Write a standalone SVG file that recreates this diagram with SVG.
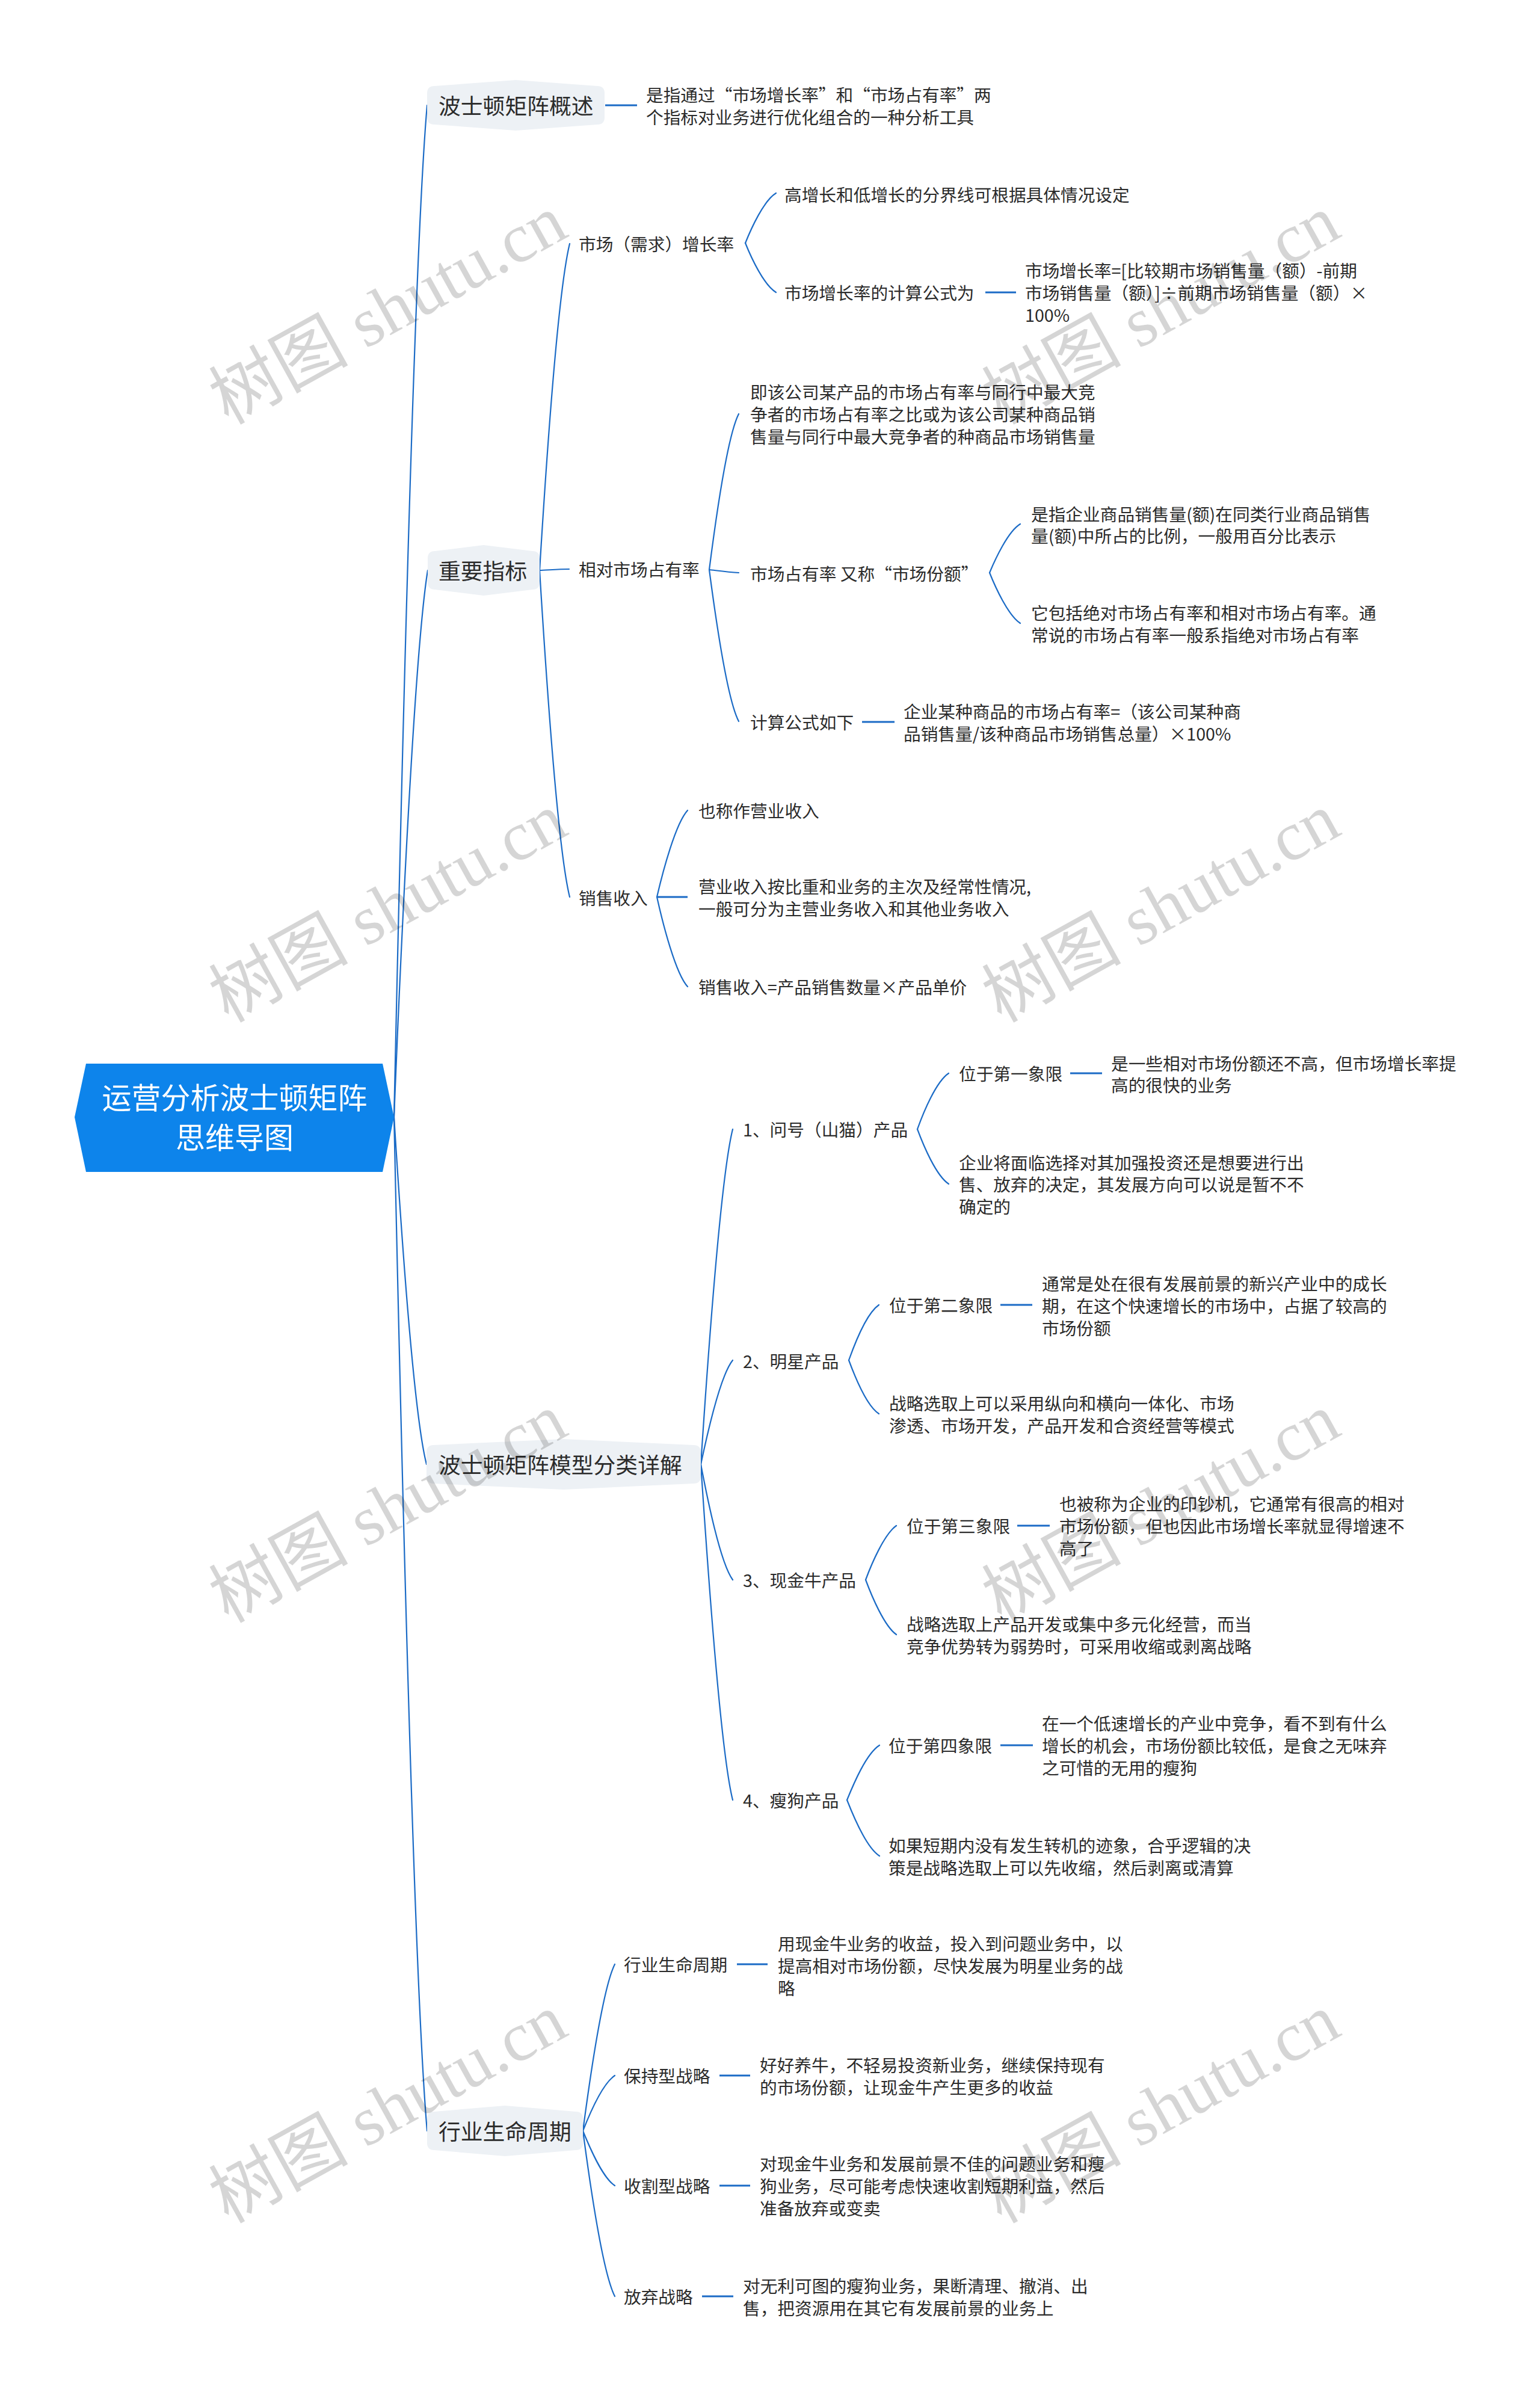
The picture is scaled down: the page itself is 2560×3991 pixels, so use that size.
<svg xmlns="http://www.w3.org/2000/svg" width="2560" height="3991" viewBox="0 0 2560 3991">
<defs>
<style>
.t{font-family:"Noto Sans CJK SC","Noto Sans",sans-serif;font-size:28.7px;fill:#2b2b2b;dominant-baseline:central}
.m{font-family:"Noto Sans CJK SC","Noto Sans",sans-serif;font-size:36.8px;fill:#2b2b2b;dominant-baseline:central}
.r{font-family:"Noto Sans CJK SC","Noto Sans",sans-serif;font-size:49px;fill:#ffffff;dominant-baseline:central;text-anchor:middle}
.nb{fill:#edf1f5}
.c{fill:none;stroke:#1b6bc6;stroke-width:2.2;stroke-linecap:round}
.s{fill:none;stroke:#1b6bc6;stroke-width:3}
.w{font-family:"Liberation Serif","Noto Sans CJK SC",serif;font-size:116px;fill:#000;opacity:0.16;text-anchor:middle;dominant-baseline:central}
</style>
</defs>
<rect width="2560" height="3991" fill="#ffffff"/>

<g id="connectors">
<path class="c" d="M655 1857 C666 1352 688 427 710 175"/>
<path class="c" d="M655 1857 C666 1584 689 1084 711 948"/>
<path class="c" d="M655 1857 C666 2030 687 2348 709 2434"/>
<path class="c" d="M655 1857 C666 2363 688 3289 710 3542"/>
<path class="s" d="M1006 175 L1059 175"/>
<path class="c" d="M897 948 C907 785 927 487 947 405"/>
<path class="c" d="M897 948 C907 948 926 946 946 946"/>
<path class="c" d="M897 948 C907 1111 927 1410 947 1491"/>
<path class="c" d="M1239 404 C1249 379 1270 333 1290 321"/>
<path class="c" d="M1239 404 C1249 429 1270 474 1290 486"/>
<path class="s" d="M1638 486 L1689 486"/>
<path class="c" d="M1179 947 C1189 869 1208 727 1228 688"/>
<path class="c" d="M1179 947 C1189 948 1208 951 1228 952"/>
<path class="c" d="M1179 947 C1189 1023 1208 1161 1228 1199"/>
<path class="c" d="M1645 952 C1655 928 1676 883 1696 871"/>
<path class="c" d="M1645 952 C1655 977 1676 1023 1696 1036"/>
<path class="s" d="M1433 1200 L1487 1200"/>
<path class="c" d="M1092 1491 C1102 1448 1123 1369 1143 1347"/>
<path class="s" d="M1092 1491 L1143 1491"/>
<path class="c" d="M1092 1491 C1102 1536 1123 1618 1143 1640"/>
<path class="c" d="M1165 2434 C1176 2267 1197 1961 1218 1877"/>
<path class="c" d="M1165 2434 C1176 2382 1197 2287 1218 2261"/>
<path class="c" d="M1165 2434 C1176 2492 1197 2597 1218 2626"/>
<path class="c" d="M1165 2434 C1176 2601 1197 2908 1218 2992"/>
<path class="c" d="M1525 1877 C1535 1849 1556 1798 1577 1784"/>
<path class="c" d="M1525 1877 C1535 1904 1556 1954 1577 1968"/>
<path class="s" d="M1779 1784 L1832 1784"/>
<path class="c" d="M1411 2261 C1421 2233 1441 2183 1461 2169"/>
<path class="c" d="M1411 2261 C1421 2288 1441 2337 1461 2350"/>
<path class="s" d="M1663 2169 L1716 2169"/>
<path class="c" d="M1439 2626 C1449 2599 1470 2550 1490 2536"/>
<path class="c" d="M1439 2626 C1449 2653 1470 2703 1490 2717"/>
<path class="s" d="M1691 2536 L1745 2536"/>
<path class="c" d="M1408 2992 C1419 2965 1440 2915 1462 2901"/>
<path class="c" d="M1408 2992 C1419 3020 1440 3071 1462 3085"/>
<path class="s" d="M1663 2901 L1717 2901"/>
<path class="c" d="M969 3542 C980 3459 1001 3307 1022 3265"/>
<path class="c" d="M969 3542 C980 3514 1001 3464 1022 3450"/>
<path class="c" d="M969 3542 C980 3569 1001 3619 1022 3633"/>
<path class="c" d="M969 3542 C980 3625 1001 3776 1022 3817"/>
<path class="s" d="M1225 3265 L1276 3265"/>
<path class="s" d="M1196 3450 L1247 3450"/>
<path class="s" d="M1196 3633 L1247 3633"/>
<path class="s" d="M1167 3817 L1219 3817"/>
</g>

<g id="root">
<polygon points="124,1857 143,1768 636,1768 655,1857 636,1948 143,1948" fill="#0d84eb"/>
<text class="r" x="390" y="1821">运营分析波士顿矩阵</text>
<text class="r" x="390" y="1887">思维导图</text>
</g>

<g id="n-overview">
<path class="nb" d="M722 143 L857.5 133 L993 143 Q1005 143 1005 155 L1005 195 Q1005 207 993 207 L857.5 217 L722 207 Q710 207 710 195 L710 155 Q710 143 722 143 Z"/>
<text class="m" x="729" y="174">波士顿矩阵概述</text>
</g>
<g id="n-overview-desc">
<text class="t" x="1074" y="156">是指通过“市场增长率”和“市场占有率”两</text>
<text class="t" x="1074" y="193">个指标对业务进行优化组合的一种分析工具</text>
</g>

<g id="n-index">
<path class="nb" d="M723 916 L804 906 L885 916 Q897 916 897 928 L897 968 Q897 980 885 980 L804 990 L723 980 Q711 980 711 968 L711 928 Q711 916 723 916 Z"/>
<text class="m" x="729" y="947">重要指标</text>
</g>
<g id="n-growth"><text class="t" x="962" y="404">市场（需求）增长率</text></g>
<g id="n-growth-1"><text class="t" x="1304" y="322">高增长和低增长的分界线可根据具体情况设定</text></g>
<g id="n-growth-2"><text class="t" x="1304" y="485">市场增长率的计算公式为</text></g>
<g id="n-growth-2a">
<text class="t" x="1704" y="448">市场增长率=[比较期市场销售量（额）-前期</text>
<text class="t" x="1704" y="485">市场销售量（额）]÷前期市场销售量（额）×</text>
<text class="t" x="1704" y="522">100%</text>
</g>
<g id="n-share"><text class="t" x="962" y="945">相对市场占有率</text></g>
<g id="n-share-1">
<text class="t" x="1247" y="650">即该公司某产品的市场占有率与同行中最大竞</text>
<text class="t" x="1247" y="687">争者的市场占有率之比或为该公司某种商品销</text>
<text class="t" x="1247" y="724">售量与同行中最大竞争者的种商品市场销售量</text>
</g>
<g id="n-share-2"><text class="t" x="1247" y="952">市场占有率 又称“市场份额”</text></g>
<g id="n-share-2a">
<text class="t" x="1714" y="853">是指企业商品销售量(额)在同类行业商品销售</text>
<text class="t" x="1714" y="889">量(额)中所占的比例，一般用百分比表示</text>
</g>
<g id="n-share-2b">
<text class="t" x="1714" y="1017">它包括绝对市场占有率和相对市场占有率。通</text>
<text class="t" x="1714" y="1054">常说的市场占有率一般系指绝对市场占有率</text>
</g>
<g id="n-share-3"><text class="t" x="1247" y="1199">计算公式如下</text></g>
<g id="n-share-3a">
<text class="t" x="1502" y="1181">企业某种商品的市场占有率=（该公司某种商</text>
<text class="t" x="1502" y="1218">品销售量/该种商品市场销售总量）×100%</text>
</g>
<g id="n-sales"><text class="t" x="962" y="1491">销售收入</text></g>
<g id="n-sales-1"><text class="t" x="1161" y="1346">也称作营业收入</text></g>
<g id="n-sales-2">
<text class="t" x="1161" y="1472">营业收入按比重和业务的主次及经常性情况,</text>
<text class="t" x="1161" y="1509">一般可分为主营业务收入和其他业务收入</text>
</g>
<g id="n-sales-3"><text class="t" x="1161" y="1639">销售收入=产品销售数量×产品单价</text></g>

<g id="n-model">
<path class="nb" d="M721 2402 L937 2392 L1153 2402 Q1165 2402 1165 2414 L1165 2454 Q1165 2466 1153 2466 L937 2476 L721 2466 Q709 2466 709 2454 L709 2414 Q709 2402 721 2402 Z"/>
<text class="m" x="729" y="2433">波士顿矩阵模型分类详解</text>
</g>
<g id="n-q1"><text class="t" x="1235" y="1876">1、问号（山猫）产品</text></g>
<g id="n-q1-a"><text class="t" x="1594" y="1783">位于第一象限</text></g>
<g id="n-q1-a1">
<text class="t" x="1847" y="1766">是一些相对市场份额还不高，但市场增长率提</text>
<text class="t" x="1847" y="1802">高的很快的业务</text>
</g>
<g id="n-q1-b">
<text class="t" x="1594" y="1931">企业将面临选择对其加强投资还是想要进行出</text>
<text class="t" x="1594" y="1967">售、放弃的决定，其发展方向可以说是暂不不</text>
<text class="t" x="1594" y="2004">确定的</text>
</g>
<g id="n-q2"><text class="t" x="1235" y="2261">2、明星产品</text></g>
<g id="n-q2-a"><text class="t" x="1478" y="2168">位于第二象限</text></g>
<g id="n-q2-a1">
<text class="t" x="1732" y="2132">通常是处在很有发展前景的新兴产业中的成长</text>
<text class="t" x="1732" y="2169">期，在这个快速增长的市场中，占据了较高的</text>
<text class="t" x="1732" y="2206">市场份额</text>
</g>
<g id="n-q2-b">
<text class="t" x="1478" y="2331">战略选取上可以采用纵向和横向一体化、市场</text>
<text class="t" x="1478" y="2368">渗透、市场开发，产品开发和合资经营等模式</text>
</g>
<g id="n-q3"><text class="t" x="1235" y="2625">3、现金牛产品</text></g>
<g id="n-q3-a"><text class="t" x="1507" y="2535">位于第三象限</text></g>
<g id="n-q3-a1">
<text class="t" x="1761" y="2498">也被称为企业的印钞机，它通常有很高的相对</text>
<text class="t" x="1761" y="2535">市场份额，但也因此市场增长率就显得增速不</text>
<text class="t" x="1761" y="2572">高了</text>
</g>
<g id="n-q3-b">
<text class="t" x="1507" y="2698">战略选取上产品开发或集中多元化经营，而当</text>
<text class="t" x="1507" y="2735">竞争优势转为弱势时，可采用收缩或剥离战略</text>
</g>
<g id="n-q4"><text class="t" x="1235" y="2991">4、瘦狗产品</text></g>
<g id="n-q4-a"><text class="t" x="1477" y="2900">位于第四象限</text></g>
<g id="n-q4-a1">
<text class="t" x="1732" y="2863">在一个低速增长的产业中竞争，看不到有什么</text>
<text class="t" x="1732" y="2900">增长的机会，市场份额比较低，是食之无味弃</text>
<text class="t" x="1732" y="2937">之可惜的无用的瘦狗</text>
</g>
<g id="n-q4-b">
<text class="t" x="1477" y="3066">如果短期内没有发生转机的迹象，合乎逻辑的决</text>
<text class="t" x="1477" y="3103">策是战略选取上可以先收缩，然后剥离或清算</text>
</g>

<g id="n-life">
<path class="nb" d="M722 3510 L839.5 3500 L957 3510 Q969 3510 969 3522 L969 3562 Q969 3574 957 3574 L839.5 3584 L722 3574 Q710 3574 710 3562 L710 3522 Q710 3510 722 3510 Z"/>
<text class="m" x="729" y="3541">行业生命周期</text>
</g>
<g id="n-life-1"><text class="t" x="1037" y="3264">行业生命周期</text></g>
<g id="n-life-1a">
<text class="t" x="1293" y="3229">用现金牛业务的收益，投入到问题业务中，以</text>
<text class="t" x="1293" y="3266">提高相对市场份额，尽快发展为明星业务的战</text>
<text class="t" x="1293" y="3303">略</text>
</g>
<g id="n-life-2"><text class="t" x="1037" y="3449">保持型战略</text></g>
<g id="n-life-2a">
<text class="t" x="1263" y="3431">好好养牛，不轻易投资新业务，继续保持现有</text>
<text class="t" x="1263" y="3468">的市场份额，让现金牛产生更多的收益</text>
</g>
<g id="n-life-3"><text class="t" x="1037" y="3632">收割型战略</text></g>
<g id="n-life-3a">
<text class="t" x="1263" y="3595">对现金牛业务和发展前景不佳的问题业务和瘦</text>
<text class="t" x="1263" y="3632">狗业务，尽可能考虑快速收割短期利益，然后</text>
<text class="t" x="1263" y="3669">准备放弃或变卖</text>
</g>
<g id="n-life-4"><text class="t" x="1037" y="3816">放弃战略</text></g>
<g id="n-life-4a">
<text class="t" x="1235" y="3798">对无利可图的瘦狗业务，果断清理、撤消、出</text>
<text class="t" x="1235" y="3835">售，把资源用在其它有发展前景的业务上</text>
</g>

<g id="watermarks">
<text class="w" x="645" y="515" transform="rotate(-29 645 515)">树图 shutu.cn</text>
<text class="w" x="1930" y="515" transform="rotate(-29 1930 515)">树图 shutu.cn</text>
<text class="w" x="645" y="1509" transform="rotate(-29 645 1509)">树图 shutu.cn</text>
<text class="w" x="1930" y="1509" transform="rotate(-29 1930 1509)">树图 shutu.cn</text>
<text class="w" x="645" y="2507" transform="rotate(-29 645 2507)">树图 shutu.cn</text>
<text class="w" x="1930" y="2507" transform="rotate(-29 1930 2507)">树图 shutu.cn</text>
<text class="w" x="645" y="3505" transform="rotate(-29 645 3505)">树图 shutu.cn</text>
<text class="w" x="1930" y="3505" transform="rotate(-29 1930 3505)">树图 shutu.cn</text>
</g>
</svg>
